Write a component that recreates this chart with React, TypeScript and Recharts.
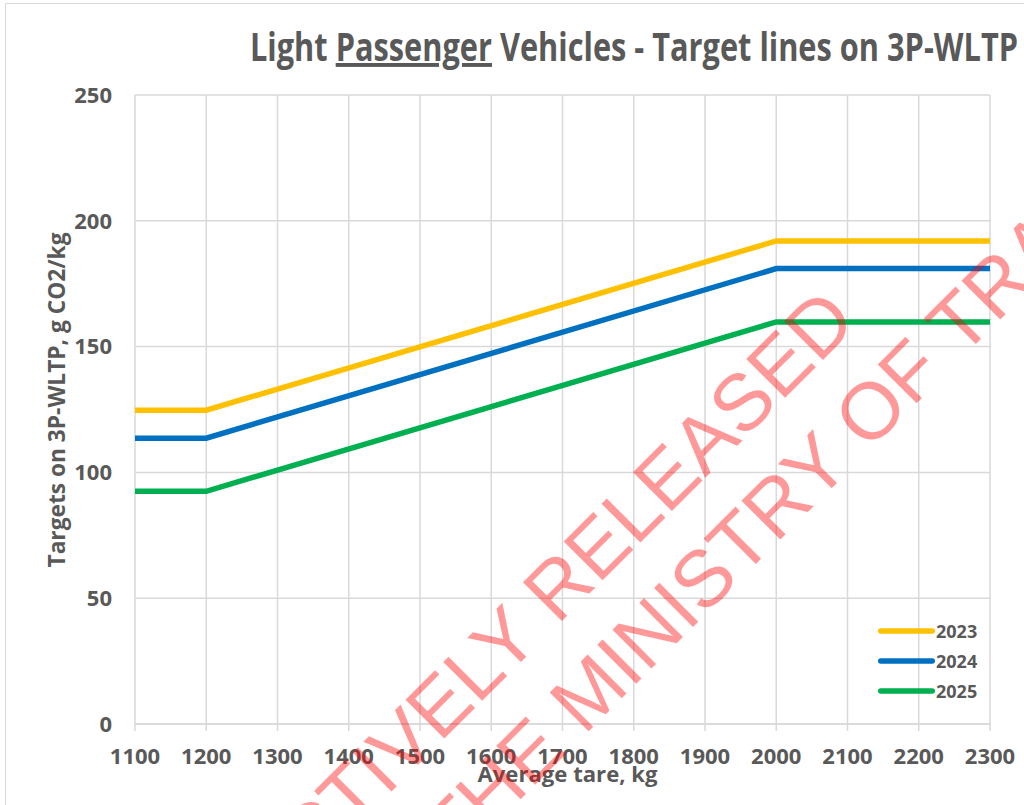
import React from 'react';
import { LineChart, Line, XAxis, YAxis, CartesianGrid, Legend, Label } from 'recharts';

// values
const tareKg = [1100, 1200, 2000, 2300];
const target2023 = [124.7, 124.7, 192, 192];
const target2024 = [113.6, 113.6, 181, 181];
const target2025 = [92.5, 92.5, 159.8, 159.8];

const yearLabels = ['2023', '2024', '2025'];
const lineColors = ['#FFC000', '#0070C0', '#00B050'];

const xTicks = [1100, 1200, 1300, 1400, 1500, 1600, 1700, 1800, 1900, 2000, 2100, 2200, 2300];
const yTicks = [0, 50, 100, 150, 200, 250];

const chartData = tareKg.map((tare, i) => ({
  tare,
  y2023: target2023[i],
  y2024: target2024[i],
  y2025: target2025[i],
}));

const seriesKeys = ['y2023', 'y2024', 'y2025'];

const textGray = '#595959';
const gridGray = '#d9d9d9';
const font = "'Open Sans', 'Noto Sans', sans-serif";

const tickStyle = { fill: textGray, fontSize: 22, fontWeight: 700, fontFamily: font };

const renderLegend = (props: any) => {
  const { payload = [] } = props;
  return (
    <div style={{ display: 'flex', flexDirection: 'column' }}>
      {payload.map((entry: any) => (
        <div key={entry.value} style={{ height: 30, display: 'flex', alignItems: 'center' }}>
          <svg width={60} height={10} style={{ display: 'block' }}>
            <line x1={4.75} x2={56.25} y1={5} y2={5} stroke={entry.color} strokeWidth={5.5} strokeLinecap="round" />
          </svg>
          <span style={{ color: textGray, fontFamily: font, fontWeight: 700, fontSize: 18, lineHeight: '30px' }}>
            {entry.value}
          </span>
        </div>
      ))}
    </div>
  );
};

export default function App() {
  return (
    <div
      style={{
        position: 'absolute',
        left: 0,
        top: 0,
        width: 1024,
        height: 805,
        overflow: 'hidden',
        background: '#fff',
      }}
    >
      {/* chart frame */}
      <div
        style={{
          position: 'absolute',
          left: 5,
          top: 3,
          width: 1100,
          height: 900,
          border: `1.5px solid ${gridGray}`,
        }}
      />
      <div style={{ position: 'absolute', left: 0, top: 0 }}>
        <LineChart width={1024} height={805} data={chartData} margin={{ top: 95, right: 34, left: 0, bottom: 21 }}>
          <CartesianGrid stroke={gridGray} strokeWidth={1.5} />
          <XAxis
            dataKey="tare"
            type="number"
            domain={[1100, 2300]}
            ticks={xTicks}
            interval={0}
            height={60}
            tick={tickStyle}
            tickSize={7}
            tickMargin={17}
            axisLine={{ stroke: gridGray, strokeWidth: 1.5 }}
            tickLine={{ stroke: gridGray, strokeWidth: 1.5 }}
          >
            <Label
              content={(p: any) => {
                const vb = p.viewBox || { x: 135, width: 855 };
                return (
                  <text
                    x={vb.x + vb.width / 2 + 5}
                    y={782}
                    textAnchor="middle"
                    fill={textGray}
                    fontFamily={font}
                    fontWeight={700}
                    fontSize={22}
                    textLength={180}
                    lengthAdjust="spacingAndGlyphs"
                  >
                    Average tare, kg
                  </text>
                );
              }}
            />
          </XAxis>
          <YAxis
            type="number"
            domain={[0, 250]}
            ticks={yTicks}
            interval={0}
            width={135}
            tick={tickStyle}
            tickSize={0}
            tickMargin={23}
            axisLine={false}
            tickLine={false}
          >
            <Label
              content={() => (
                <text
                  x={-400}
                  y={65}
                  transform="rotate(-90)"
                  textAnchor="middle"
                  fill={textGray}
                  fontFamily={font}
                  fontWeight={700}
                  fontSize={23}
                  textLength={335}
                  lengthAdjust="spacingAndGlyphs"
                >
                  Targets on 3P-WLTP, g CO2/kg
                </text>
              )}
            />
          </YAxis>
          <Legend
            layout="horizontal"
            align="center"
            verticalAlign="middle"
            content={renderLegend}
            wrapperStyle={{ left: 876, top: 616, width: 'auto', height: 'auto' }}
          />
          {seriesKeys.map((key, i) => (
            <Line
              key={key}
              type="linear"
              dataKey={key}
              name={yearLabels[i]}
              stroke={lineColors[i]}
              strokeWidth={5.5}
              dot={false}
              activeDot={false}
              isAnimationActive={false}
            />
          ))}
        </LineChart>
      </div>
      {/* title and watermark overlay */}
      <svg
        width={1024}
        height={805}
        style={{ position: 'absolute', left: 0, top: 0, pointerEvents: 'none' }}
      >
        <text
          x={250}
          y={61}
          fill={textGray}
          fontFamily={font}
          fontWeight={700}
          fontSize={39}
          textLength={768}
          lengthAdjust="spacingAndGlyphs"
        >
          Light <tspan textDecoration="underline">Passenger</tspan> Vehicles - Target lines on 3P-WLTP
        </text>
        <g fill="#ff0000" fillOpacity={0.4} fontFamily="'Liberation Sans', Arial, sans-serif" fontSize={80}>
          <text x={859} y={324} textAnchor="end" transform="rotate(-45 859 324)">
            PROACTIVELY RELEASED
          </text>
          <text x={366} y={954} transform="rotate(-45 366 954)">
            BY THE MINISTRY OF TRANSPORT
          </text>
        </g>
      </svg>
    </div>
  );
}
